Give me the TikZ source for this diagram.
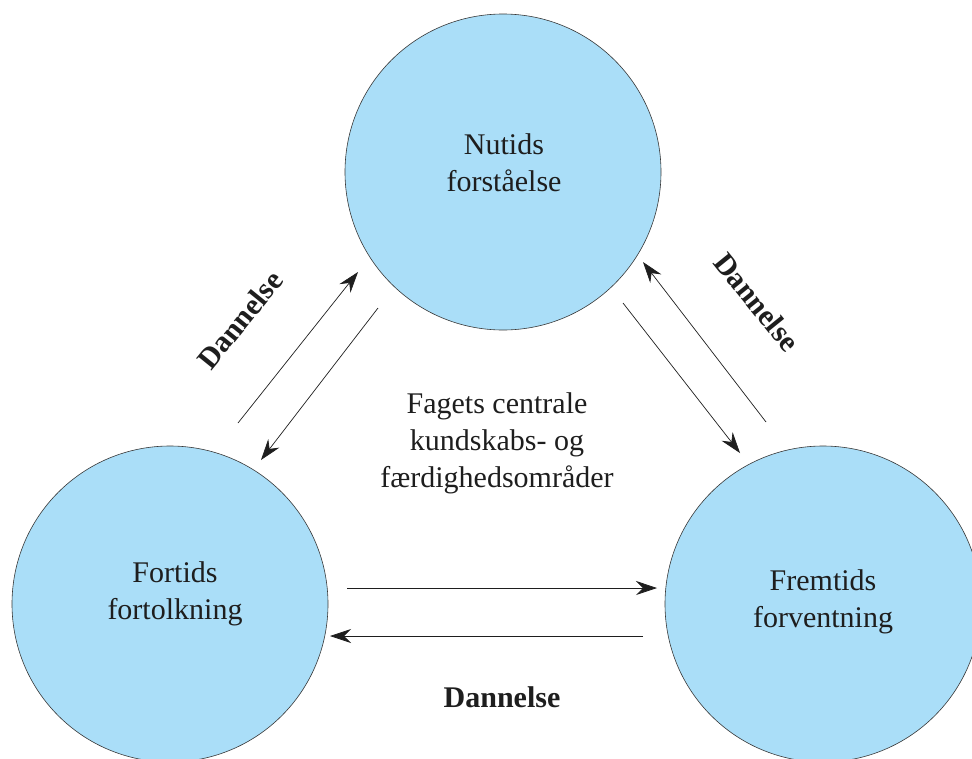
\documentclass[tikz,border=0pt]{standalone}
\usepackage{fontspec}
\setmainfont{Liberation Serif}
\usetikzlibrary{arrows.meta}
\definecolor{circfill}{RGB}{170,222,248}
\definecolor{circline}{RGB}{55,55,55}
\definecolor{txt}{RGB}{30,30,30}
\begin{document}
\begin{tikzpicture}[x=1pt,y=-1pt,
  bubble/.style={circle,fill=circfill,draw=circline,line width=0.6pt,minimum size=316pt,inner sep=0pt},
  intext/.style={align=center,font=\fontsize{30}{37}\selectfont,text=txt,inner sep=0pt},
  conn/.style={line width=0.7pt,draw=txt,-{Stealth[length=21pt,width=14pt,inset=7pt]}},
  lbl/.style={font=\fontsize{30}{34}\selectfont\bfseries,text=txt,inner sep=0pt}
]
\useasboundingbox (0,0) rectangle (972,758);
\begin{scope}
\clip (0,0) rectangle (972,758);
\node[bubble] (nu) at (503,172) {};
\node[bubble] (fo) at (170,604) {};
\node[bubble] (fr) at (823,604) {};
\end{scope}
\node[intext] (nut) at (504,163) {Nutids\\forståelse};
\node[intext] (fot) at (175,594) {Fortids\\fortolkning};
\node[intext] (frt) at (823,602) {Fremtids\\forventning};
\node[intext] (mid) at (497,443) {Fagets centrale\\kundskabs- og\\færdighedsområder};

\coordinate (l1a) at (238,423); \coordinate (l1b) at (358,272);
\coordinate (l2a) at (378,308); \coordinate (l2b) at (261,460);
\coordinate (r1a) at (623,303); \coordinate (r1b) at (740,453);
\coordinate (r2a) at (766,422); \coordinate (r2b) at (643,262);
\coordinate (h1a) at (347,588); \coordinate (h1b) at (657,588);
\coordinate (h2a) at (643,636); \coordinate (h2b) at (330,636);
\draw[conn] (l1a) -- (l1b);
\draw[conn] (l2a) -- (l2b);
\draw[conn] (r1a) -- (r1b);
\draw[conn] (r2a) -- (r2b);
\draw[conn] (h1a) -- (h1b);
\draw[conn] (h2a) -- (h2b);

\node[lbl,rotate=51] (dl) at (240,320) {Dannelse};
\node[lbl,rotate=-51] (dr) at (757,302) {Dannelse};
\node[lbl,anchor=base] (db) at (502,707) {Dannelse};
\end{tikzpicture}
\end{document}
